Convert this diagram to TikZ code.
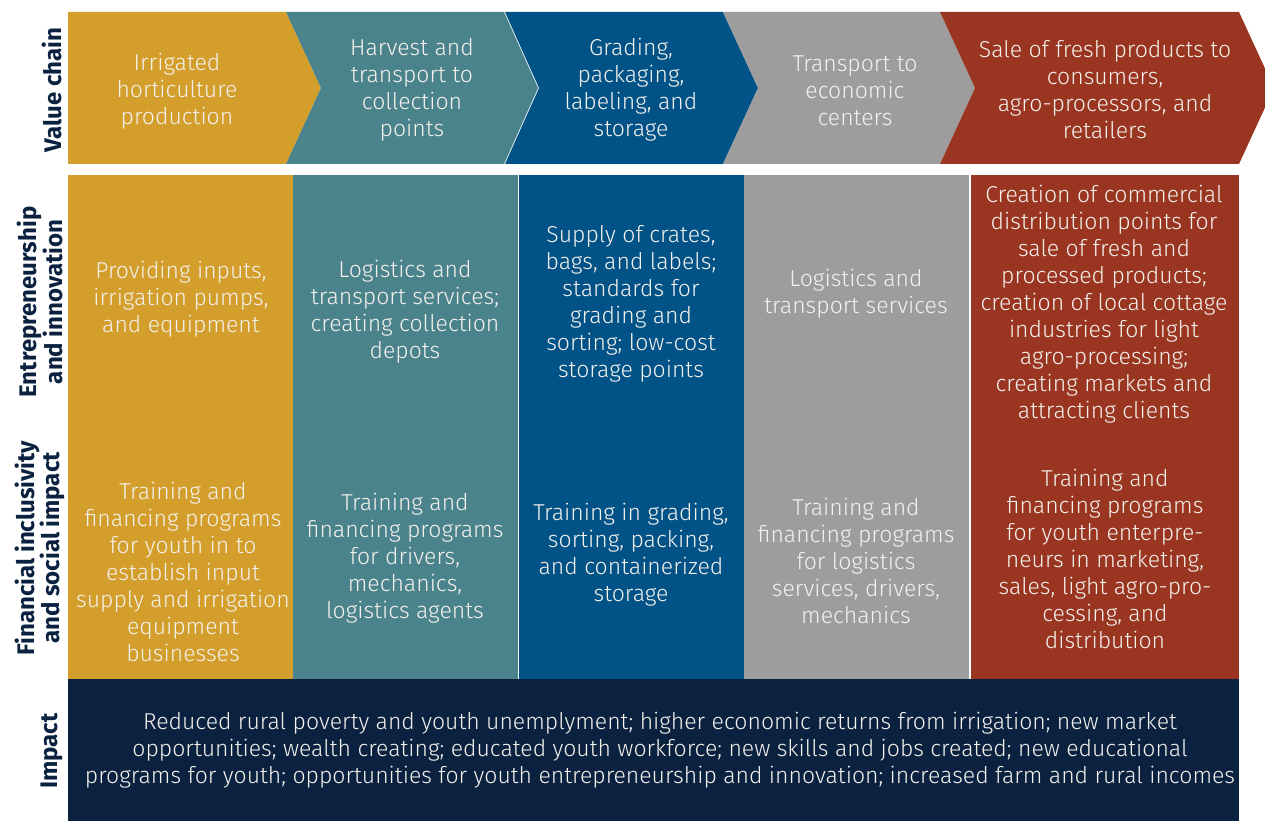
\documentclass[tikz,border=0pt]{standalone}
\usepackage{fontspec}
\setmainfont{Fira Sans}[UprightFont=* Light, BoldFont=* Bold]
\definecolor{cyel}{HTML}{D39E2B}
\definecolor{cteal}{HTML}{4A838C}
\definecolor{cblue}{HTML}{015286}
\definecolor{cgrey}{HTML}{9D9D9D}
\definecolor{cred}{HTML}{993520}
\definecolor{cnavy}{HTML}{0A2240}
\definecolor{ctext}{HTML}{F4F1EC}
\tikzset{
  celltext/.style={text=ctext, align=center, inner sep=0pt, yshift=-2pt, font=\fontsize{23}{27}\selectfont},
  rowlabel/.style={text=cnavy, align=center, inner sep=0pt, rotate=90, font=\fontsize{24}{24}\selectfont\bfseries},
}
\begin{document}
\begin{tikzpicture}[x=1pt,y=-1pt]
\useasboundingbox (0,0) rectangle (1265,821);
\clip (0,0) rectangle (1265,821);
% value chain chevrons
\fill[cyel] (68,12) -- (286,12) -- (321,88) -- (286,164) -- (68,164) -- cycle;
\fill[cteal] (286,12) -- (504,12) -- (538,88) -- (504,164) -- (286,164) -- (321,88) -- cycle;
\fill[cblue] (505,12) -- (723,12) -- (758,88) -- (723,164) -- (505,164) -- (539,88) -- cycle;
\fill[cgrey] (723,12) -- (940,12) -- (975,88) -- (940,164) -- (723,164) -- (758,88) -- cycle;
\fill[cred] (940,12) -- (1239,12) -- (1274,88) -- (1239,164) -- (940,164) -- (975,88) -- cycle;
% middle cells
\fill[cyel] (68,175) rectangle (293,679);
\fill[cteal] (293,175) rectangle (518,679);
\fill[cblue] (519,175) rectangle (744,679);
\fill[cgrey] (744,175) rectangle (969,679);
\fill[cred] (971,175) rectangle (1239,679);
% impact
\fill[cnavy] (68,679) rectangle (1239,821);

% row labels
\node[rowlabel] (lvc) at (52,90) {Value chain};
\node[rowlabel] (lei) at (40,302) {Entrepreneurship\\and innovation};
\node[rowlabel] (lfi) at (40,548) {Financial inclusivity\\and social impact};
\node[rowlabel] (lim) at (52,751) {Impact};

% value chain text
\node[celltext] (v1) at (177,89) {Irrigated\\horticulture\\production};
\node[celltext] (v2) at (412,88) {Harvest and\\transport to\\collection\\points};
\node[celltext] (v3) at (631,88) {Grading,\\packaging,\\labeling, and\\storage};
\node[celltext] (v4) at (855,89) {Transport to\\economic\\centers};
\node[celltext] (v5) at (1105,88) {Sale of fresh products to\\consumers,\\agro-processors, and\\retailers};

% entrepreneurship row
\node[celltext] (e1) at (181,297) {Providing inputs,\\irrigation pumps,\\and equipment};
\node[celltext] (e2) at (405,310) {Logistics and\\transport services;\\creating collection\\depots};
\node[celltext] (e3) at (631,302) {Supply of crates,\\bags, and labels;\\standards for\\grading and\\sorting; low-cost\\storage points};
\node[celltext] (e4) at (856,292) {Logistics and\\transport services};
\node[celltext] (e5) at (1104,302) {Creation of commercial\\distribution points for\\sale of fresh and\\processed products;\\creation of local cottage\\industries for light\\agro-processing;\\creating markets and\\attracting clients};

% financial row
\node[celltext] (f1) at (183,570) {Training and\\financing programs\\for youth in to\\establish input\\supply and irrigation\\equipment\\businesses};
\node[celltext] (f2) at (405,556) {Training and\\financing programs\\for drivers,\\mechanics,\\logistics agents};
\node[celltext] (f3) at (631,553) {Training in grading,\\sorting, packing,\\and containerized\\storage};
\node[celltext] (f4) at (856,559) {Training and\\financing programs\\for logistics\\services, drivers,\\mechanics};
\node[celltext] (f5) at (1105,557) {Training and\\financing programs\\for youth enterpre-\\neurs in marketing,\\sales, light agro-pro-\\cessing, and\\distribution};

% impact
\node[celltext] (im) at (660,748) {Reduced rural poverty and youth unemplyment; higher economic returns from irrigation; new market\\opportunities; wealth creating; educated youth workforce; new skills and jobs created; new educational\\programs for youth; opportunities for youth entrepreneurship and innovation; increased farm and rural incomes};
\end{tikzpicture}
\end{document}
